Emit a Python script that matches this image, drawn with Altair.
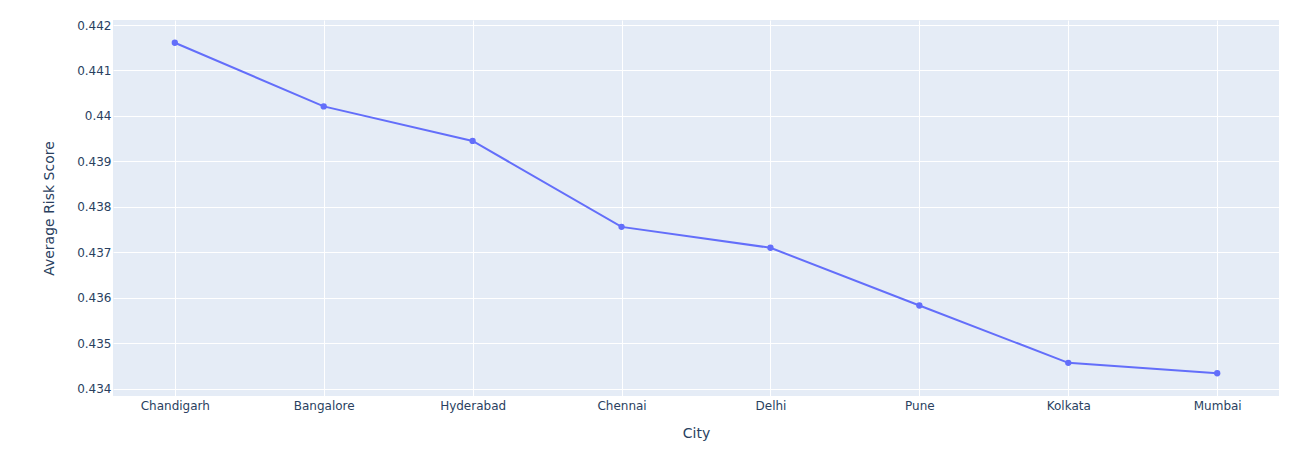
import altair as alt
import pandas as pd

cities = ["Chandigarh", "Bangalore", "Hyderabad", "Chennai", "Delhi", "Pune", "Kolkata", "Mumbai"]
risk = [0.44161, 0.44021, 0.43945, 0.43756, 0.43710, 0.43583, 0.43457, 0.43434]

df = pd.DataFrame({"City": cities, "Average Risk Score": risk})

font = "DejaVu Sans"
txt = "#2a3f5f"

base = alt.Chart(df).encode(
    x=alt.X("City:N", sort=cities,
            scale=alt.Scale(type="point", padding=0.415),
            axis=alt.Axis(title="City", labelAngle=0, grid=True, gridColor="white",
                          gridWidth=1, domain=False, ticks=False, labelPadding=4,
                          labelFont=font, labelFontSize=12, labelColor=txt,
                          titleFont=font, titleFontSize=14, titleColor=txt,
                          titleFontWeight="normal", titleX=583, titleY=37,
                          titleBaseline="middle", titleAlign="center")),
    y=alt.Y("Average Risk Score:Q",
            scale=alt.Scale(domain=[0.43384, 0.44211], nice=False, zero=False),
            axis=alt.Axis(title="Average Risk Score", values=[0.434, 0.435, 0.436, 0.437, 0.438, 0.439, 0.44, 0.441, 0.442],
                          labelExpr="format(datum.value, '.3~f')",
                          grid=True, gridColor="white", gridWidth=1, domain=False, ticks=False,
                          labelPadding=2, labelFont=font, labelFontSize=12, labelColor=txt,
                          titleFont=font, titleFontSize=14, titleColor=txt, titleFontWeight="normal",
                          titleX=-64, titleY=188, titleAngle=-90,
                          titleBaseline="middle", titleAlign="center")),
)

line = base.mark_line(color="#636efa", strokeWidth=2)
pts = base.mark_circle(color="#636efa", size=40, opacity=1)

chart = (line + pts).properties(
    width=1166, height=376,
    autosize=alt.AutoSizeParams(type="none"),
    padding={"left": 105, "top": 12, "right": 21, "bottom": 58},
).configure_view(fill="#E5ECF6", stroke=None)

chart.save("out.html", embed_options={"renderer": "svg", "actions": False})
